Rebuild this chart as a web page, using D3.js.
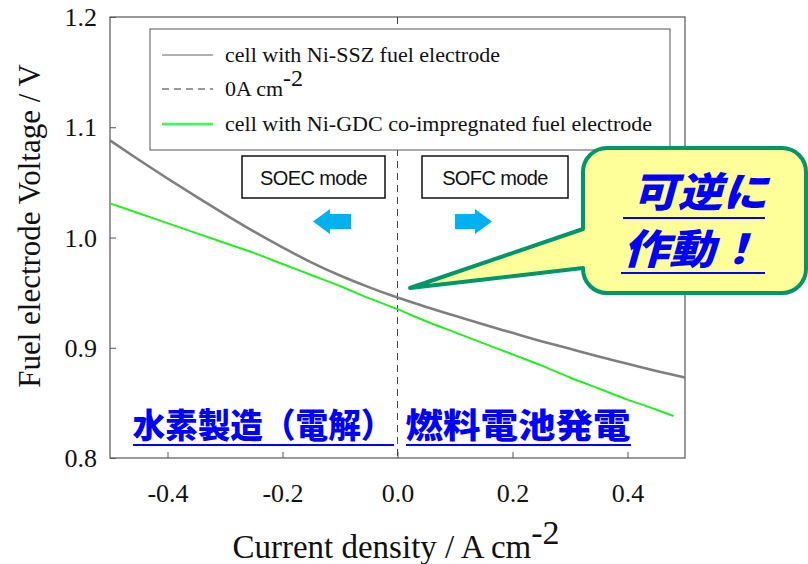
<!DOCTYPE html>
<html><head><meta charset="utf-8">
<script src="https://cdn.jsdelivr.net/npm/d3@7"></script>
<style>html,body{margin:0;padding:0;background:#fff;}svg{display:block;}</style>
</head><body>
<svg id="chart" width="808" height="564"></svg>
<script>
// ---- data ----
const currentSSZ = [-0.5,-0.45,-0.4,-0.35,-0.3,-0.25,-0.2,-0.15,-0.1,-0.05,0,0.05,0.1,0.15,0.2,0.25,0.3,0.35,0.4,0.45,0.5];
const voltageSSZ = [1.088,1.0705,1.0535,1.037,1.021,1.0055,0.991,0.9775,0.9655,0.955,0.9455,0.937,0.929,0.921,0.9135,0.906,0.899,0.892,0.8855,0.879,0.873];
const currentGDC = [-0.5,-0.45,-0.4,-0.35,-0.3,-0.25,-0.2,-0.15,-0.1,-0.05,0,0.05,0.1,0.15,0.2,0.25,0.3,0.35,0.4,0.45,0.48];
const voltageGDC = [1.031,1.022,1.013,1.004,0.995,0.986,0.976,0.966,0.956,0.945,0.935,0.924,0.914,0.904,0.894,0.884,0.873,0.863,0.853,0.844,0.838];
const xTicks = [-0.4,-0.2,0.0,0.2,0.4];
const yTicks = [0.8,0.9,1.0,1.1,1.2];
const legendLabels = ["cell with Ni-SSZ fuel electrode","0A cm","cell with Ni-GDC co-impregnated fuel electrode"];

const svg = d3.select("#chart");
const L = 110, R = 685, T = 17, B = 458;
const x = d3.scaleLinear().domain([-0.5,0.5]).range([L,R]);
const y = d3.scaleLinear().domain([0.8,1.2]).range([B,T]);
const serif = "'Liberation Serif','Times New Roman',serif";
const cjk = "'Noto Sans CJK JP','Noto Sans CJK SC',sans-serif";
const axisCol = "#555";
const fmt = d => d3.format(".1f")(d).replace("\u2212","-");

// frame
svg.append("rect").attr("x",L).attr("y",T).attr("width",R-L).attr("height",B-T)
  .attr("fill","none").attr("stroke",axisCol).attr("stroke-width",1.2);

// axes (ticks inward)
const xAxis = svg.append("g").attr("transform",`translate(0,${B})`)
  .call(d3.axisBottom(x).tickValues(xTicks).tickSizeInner(-6).tickSizeOuter(0).tickPadding(17).tickFormat(fmt));
const yAxis = svg.append("g").attr("transform",`translate(${L},0)`)
  .call(d3.axisLeft(y).tickValues(yTicks).tickSizeInner(-6).tickSizeOuter(0).tickPadding(13).tickFormat(fmt));
[xAxis,yAxis].forEach(g=>{
  g.select(".domain").remove();
  g.selectAll(".tick line").attr("stroke",axisCol);
  g.selectAll(".tick text").attr("font-family",serif).attr("font-size",26).attr("fill","#111");
});
xAxis.selectAll(".tick text").attr("dy","1.05em");
yAxis.selectAll(".tick text").attr("dy","0.33em");

// zero line
svg.append("line").attr("x1",x(0)).attr("x2",x(0)).attr("y1",T).attr("y2",B)
  .attr("stroke","#444").attr("stroke-width",1).attr("stroke-dasharray","7,5");

// curves
const line = d3.line().x(d=>x(d[0])).y(d=>y(d[1])).curve(d3.curveMonotoneX);
svg.append("path").datum(currentSSZ.map((c,i)=>[c,voltageSSZ[i]]))
  .attr("d",line).attr("fill","none").attr("stroke","#7f7f7f").attr("stroke-width",2.6);
svg.append("path").datum(currentGDC.map((c,i)=>[c,voltageGDC[i]]))
  .attr("d",line).attr("fill","none").attr("stroke","#22ee22").attr("stroke-width",2);

// legend
svg.append("rect").attr("x",150).attr("y",29).attr("width",520).attr("height",121)
  .attr("fill","#fff").attr("stroke",axisCol).attr("stroke-width",1);
const legRows = [
  {y:55, stroke:"#999", dash:null, w:1.5},
  {y:89, stroke:"#333", dash:"7,5", w:1.2},
  {y:124, stroke:"#33ff55", dash:null, w:2.5}
];
legRows.forEach((r,i)=>{
  svg.append("line").attr("x1",162).attr("x2",213).attr("y1",r.y).attr("y2",r.y)
    .attr("stroke",r.stroke).attr("stroke-width",r.w).attr("stroke-dasharray",r.dash);
  const t = svg.append("text").attr("x",225).attr("y",r.y+7).attr("font-family",serif)
    .attr("font-size",22).attr("fill","#111").text(legendLabels[i]);
  if(i===1){ t.append("tspan").attr("dy",-10).attr("font-size",24).text("-2"); }
});

// mode boxes
[["SOEC mode",242,385],["SOFC mode",422,568]].forEach(([txt,x0,x1])=>{
  svg.append("rect").attr("x",x0).attr("y",156).attr("width",x1-x0).attr("height",42)
    .attr("fill","#fff").attr("stroke","#111").attr("stroke-width",1.5);
  svg.append("text").attr("x",(x0+x1)/2).attr("y",185).attr("text-anchor","middle")
    .attr("font-family","'Liberation Sans',Arial,sans-serif").attr("font-size",20).attr("fill","#111")
    .attr("letter-spacing",-0.6).text(txt);
});
// arrows
const arrowCol = "#00b0f0";
function arrow(xTip, xEnd, dir){
  const cy = 221.5, head = 17*dir;
  const p = d3.path();
  p.moveTo(xTip,cy); p.lineTo(xTip+head,cy-12.5); p.lineTo(xTip+head,cy-7.5);
  p.lineTo(xEnd,cy-7.5); p.lineTo(xEnd,cy+7.5); p.lineTo(xTip+head,cy+7.5);
  p.lineTo(xTip+head,cy+12.5); p.closePath();
  svg.append("path").attr("d",p.toString()).attr("fill",arrowCol);
}
arrow(313,351,1);
arrow(492,455,-1);

// callout
const c = d3.path();
const bx0=583,by0=148,bx1=806,by1=293,rr=24;
c.moveTo(bx0+rr,by0); c.lineTo(bx1-rr,by0); c.arcTo(bx1,by0,bx1,by0+rr,rr);
c.lineTo(bx1,by1-rr); c.arcTo(bx1,by1,bx1-rr,by1,rr);
c.lineTo(bx0+rr,by1); c.arcTo(bx0,by1,bx0,by1-rr,rr);
c.lineTo(bx0,268); c.lineTo(410,288); c.lineTo(bx0,229);
c.lineTo(bx0,by0+rr); c.arcTo(bx0,by0,bx0+rr,by0,rr); c.closePath();
svg.append("path").attr("d",c.toString()).attr("fill","#ffff99").attr("stroke","#00966b")
  .attr("stroke-width",4).attr("stroke-linejoin","round");

function jtext(txt, xc, base, size, len, italic, ulY, ulX0, ulX1){
  svg.append("text").attr("x",xc).attr("y",base).attr("text-anchor","middle")
    .attr("font-family",cjk).attr("font-weight","900").attr("font-size",size)
    .attr("font-style",italic?"italic":"normal").attr("fill","#0000ff")
    .attr("textLength",len).attr("lengthAdjust","spacingAndGlyphs").text(txt);
  svg.append("line").attr("x1",ulX0).attr("x2",ulX1).attr("y1",ulY).attr("y2",ulY)
    .attr("stroke","#0000ff").attr("stroke-width",2);
}
jtext("可逆に",700,207,41,135,true,218,623,765);
jtext("作動！",692,264,41,138,true,273,621,765);
jtext("水素製造（電解）",263,438,34,261,false,445,133,394);
jtext("燃料電池発電",518,438,34,225,false,445,406,631);

// axis titles
svg.append("text").attr("transform","translate(40,226) rotate(-90)").attr("text-anchor","middle")
  .attr("font-family",serif).attr("font-size",31).attr("fill","#111").text("Fuel electrode Voltage / V");
const xt = svg.append("text").attr("x",396).attr("y",558).attr("text-anchor","middle")
  .attr("font-family",serif).attr("font-size",33).attr("fill","#111").text("Current density / A cm");
xt.append("tspan").attr("dy",-14).attr("font-size",34).text("-2");
</script>
</body></html>
